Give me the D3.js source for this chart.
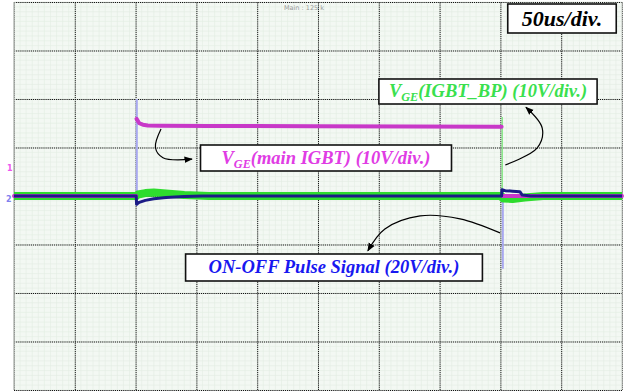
<!DOCTYPE html>
<html>
<head>
<meta charset="utf-8">
<script src="https://cdn.jsdelivr.net/npm/d3@7"></script>
<style>
  html, body { margin: 0; padding: 0; background: #ffffff; }
  svg { display: block; }
</style>
</head>
<body>
<svg id="chart" width="628" height="392"></svg>
<script>
// ---- data (time in us, voltage in V; null = trace gap at a fast edge) ----
const timeTicks = [0, 50, 100, 150, 200, 250, 300, 350, 400, 450, 500];
const divTicks = [-4, -3, -2, -1, 0, 1, 2, 3, 4];
const voltsPerDiv = { main: 10, bp: 10, pulse: 20 };

const vgeMain = [[0,0],[100.5,0],[100.6,null],[100.8,15.9],[101.8,15.5],[103,15.0],[106,14.7],[110,14.55],[120,14.5],[160,14.45],[250,14.4],[330,14.35],[401,14.3],[401.2,null],[401.5,0],[500,0]];
const vgeBP = [[0,0],[100.5,0],[102,0.3],[108,0.6],[115,0.7],[125,0.5],[140,0.2],[160,0],[401,0],[402,-0.5],[410,-0.6],[420,-0.3],[435,0],[500,0]];
const vgeBPEdge = [[401.5,0],[401.5,16.3]];
const pulse = [[0,0],[100.5,0],[100.8,-3.4],[103,-2.6],[108,-1.8],[115,-1.1],[125,-0.6],[140,-0.2],[155,0],[401,0],[401.3,2.6],[404,2.2],[410,2.0],[416,1.8],[418,0.4],[425,0],[500,0]];
const pulseEdgeOn = [[101,-4],[101,40]];
const pulseEdgeOff = [[402,0],[402,-30]];

// annotation arrows (time us, divisions)
const arrowMain = [[120.9,1.38],[116.3,1.0],[122.5,0.79],[146.4,0.76]];
const arrowBP = [[404,0.64],[430.3,0.99],[434.4,1.40],[421,1.83]];
const arrowPulse = [[399.7,-0.76],[366.8,-0.47],[334,-0.41],[305,-0.68],[291,-1.13]];

// ---- layout ----
const svg = d3.select("#chart");
const L = 14, R = 622, T = 2, B = 390;
const x = d3.scaleLinear().domain([0, 500]).range([L, R]);
const yDiv = d3.scaleLinear().domain([-4, 4]).range([B, T]);
const yV = k => (v => yDiv(v / voltsPerDiv[k]));

// plot background
svg.append("rect").attr("x", L).attr("y", T).attr("width", R - L).attr("height", B - T)
  .attr("fill", "#f3f8f3");

// minor grid
const minorX = d3.range(0, 500.01, 5);
const minorY = d3.range(-4, 4.01, 0.1);
svg.append("g").selectAll("line").data(minorX).join("line")
  .attr("x1", d => x(d)).attr("x2", d => x(d)).attr("y1", T).attr("y2", B)
  .attr("stroke", "#e3ece3").attr("stroke-width", 0.6);
svg.append("g").selectAll("line").data(minorY).join("line")
  .attr("y1", d => yDiv(d)).attr("y2", d => yDiv(d)).attr("x1", L).attr("x2", R)
  .attr("stroke", "#e3ece3").attr("stroke-width", 0.6);

// major grid via axes
const gx = svg.append("g").attr("transform", `translate(0,${B})`)
  .call(d3.axisBottom(x).tickValues(timeTicks).tickSize(-(B - T)).tickFormat(""));
const gy = svg.append("g").attr("transform", `translate(${L},0)`)
  .call(d3.axisLeft(yDiv).tickValues(divTicks).tickSize(-(R - L)).tickFormat(""));
[gx, gy].forEach(g => {
  g.select(".domain").remove();
  g.selectAll(".tick line").attr("stroke", "#111").attr("stroke-width", 1)
    .attr("stroke-dasharray", "1.2,0.9");
});
// borders
svg.append("line").attr("x1", L).attr("x2", L).attr("y1", T).attr("y2", B)
  .attr("stroke", "#b8bcb8").attr("stroke-width", 1.5);
svg.append("line").attr("x1", R).attr("x2", R).attr("y1", T).attr("y2", B)
  .attr("stroke", "#c8ccc8").attr("stroke-width", 1);

// top info text
svg.append("text").attr("x", 304).attr("y", 10).attr("text-anchor", "middle")
  .attr("font-family", "DejaVu Sans").attr("font-size", 6.5).attr("fill", "#9a9a9a")
  .text("Main : 125 k");

// channel markers
svg.append("text").attr("x", 7).attr("y", 171).attr("font-family", "DejaVu Sans")
  .attr("font-size", 8).attr("font-weight", "bold").attr("fill", "#ee55ee").text("1");
svg.append("text").attr("x", 6).attr("y", 202).attr("font-family", "DejaVu Sans")
  .attr("font-size", 8).attr("font-weight", "bold").attr("fill", "#8080ee").text("2");

// traces
const lineOf = k => d3.line().defined(d => d[1] !== null)
  .x(d => x(d[0])).y(d => yV(k)(d[1]));
svg.append("path").datum(pulseEdgeOn).attr("d", lineOf("pulse"))
  .attr("stroke", "#a8a8f0").attr("stroke-width", 2).attr("fill", "none");
svg.append("path").datum(pulseEdgeOff).attr("d", lineOf("pulse"))
  .attr("stroke", "#a8a8f0").attr("stroke-width", 2).attr("fill", "none");
svg.append("path").datum(vgeBPEdge).attr("d", lineOf("bp"))
  .attr("stroke", "#8ae88a").attr("stroke-width", 1.5).attr("fill", "none");
svg.append("path").datum(vgeBP).attr("d", lineOf("bp"))
  .attr("stroke", "#2edc2e").attr("stroke-width", 8).attr("fill", "none")
  .attr("stroke-linejoin", "round");
svg.append("path").datum(vgeMain).attr("d", lineOf("main"))
  .attr("stroke", "#c838c8").attr("stroke-width", 4).attr("fill", "none")
  .attr("stroke-linejoin", "round").attr("stroke-linecap", "round");
svg.append("path").datum(pulse).attr("d", lineOf("pulse"))
  .attr("stroke", "#1c1c86").attr("stroke-width", 3).attr("fill", "none")
  .attr("stroke-linejoin", "round");

// arrows
svg.append("defs").append("marker").attr("id", "ah")
  .attr("viewBox", "0 0 10 10").attr("refX", 9).attr("refY", 5)
  .attr("markerWidth", 7).attr("markerHeight", 7).attr("orient", "auto")
  .append("path").attr("d", "M0,1 L10,5 L0,9 Z").attr("fill", "#000");
const arrowLine = d3.line().x(d => x(d[0])).y(d => yDiv(d[1])).curve(d3.curveCatmullRom);
[arrowMain, arrowBP, arrowPulse].forEach(a => {
  svg.append("path").datum(a).attr("d", arrowLine)
    .attr("stroke", "#000").attr("stroke-width", 1.2).attr("fill", "none")
    .attr("marker-end", "url(#ah)");
});

// labels
function label(xc, yb, color, size, parts, pad) {
  const g = svg.append("g");
  const t = g.append("text").attr("x", xc).attr("y", yb).attr("text-anchor", "middle")
    .attr("font-family", "Liberation Serif, Times New Roman, serif")
    .attr("font-weight", "bold").attr("font-style", "italic")
    .attr("font-size", size).attr("fill", color);
  parts.forEach(p => {
    const s = t.append("tspan").text(p.t);
    if (p.sub) s.attr("font-size", size * 0.66).attr("dy", 4);
    if (p.up) s.attr("dy", -4);
  });
  const bb = t.node().getBBox();
  g.insert("rect", "text").attr("x", bb.x - pad[0]).attr("y", pad[2])
    .attr("width", bb.width + 2 * pad[0]).attr("height", pad[3] - pad[2])
    .attr("fill", "#ffffff").attr("stroke", "#111").attr("stroke-width", 1.6);
}
label(562, 26, "#000000", 22, [{t: "50us/div."}], [14, 0, 4, 33]);
label(488, 97, "#3ae04e", 18.5, [{t: "V"}, {t: "GE", sub: true}, {t: "(IGBT_BP) (10V/div.)", up: true}], [10, 0, 79, 104]);
label(326, 164, "#e03ce4", 18.5, [{t: "V"}, {t: "GE", sub: true}, {t: "(main IGBT) (10V/div.)", up: true}], [21, 0, 145, 171]);
label(334, 273, "#1818f0", 18.5, [{t: "ON-OFF Pulse Signal (20V/div.)"}], [23, 0, 254, 281]);
</script>
</body>
</html>
